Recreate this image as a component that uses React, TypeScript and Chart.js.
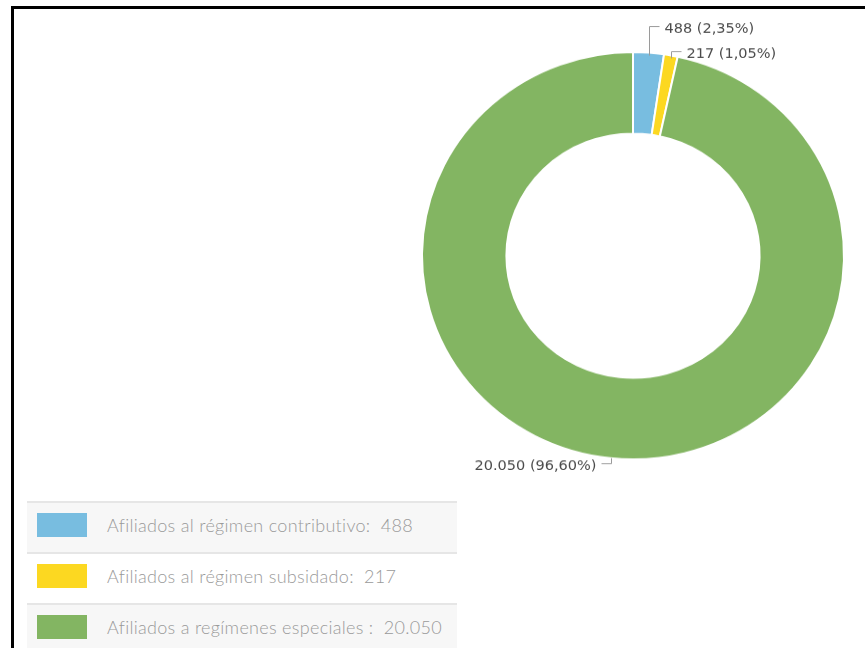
import React, { useEffect, useRef } from "react";
import { Chart, registerables } from "chart.js";

Chart.register(...registerables);

const categories = [
  "Afiliados al régimen contributivo:",
  "Afiliados al régimen subsidado:",
  "Afiliados a regímenes especiales :",
];
const values = [488, 217, 20050];
const valueLabels = ["488", "217", "20.050"];
const percentLabels = ["2,35%", "1,05%", "96,60%"];
const colors = ["#78bde0", "#fcd821", "#83b562"];

const labelPlugin = {
  id: "sliceLabels",
  afterDatasetsDraw(chart: any) {
    const meta = chart.getDatasetMeta(0);
    const ctx = chart.ctx;
    const items: any[] = [];
    meta.data.forEach((arc: any, i: number) => {
      const p = arc.getProps(["x", "y", "startAngle", "endAngle", "outerRadius"], true);
      const mid = (p.startAngle + p.endAngle) / 2;
      const ex = p.x + Math.cos(mid) * p.outerRadius;
      const ey = p.y + Math.sin(mid) * p.outerRadius;
      const right = ex >= p.x;
      const bottom = ey > p.y;
      const ly = ey + (bottom ? 5 : -4);
      items.push({ i, ex, ey, right, ly });
    });
    const rightItems = items.filter((d) => d.right).sort((a, b) => b.ly - a.ly);
    for (let k = 1; k < rightItems.length; k++) {
      if (rightItems[k - 1].ly - rightItems[k].ly < 26) {
        rightItems[k].ly = rightItems[k - 1].ly - 26;
      }
    }
    ctx.save();
    ctx.font = "14.5px 'DejaVu Sans'";
    ctx.textBaseline = "middle";
    items.forEach((d) => {
      const sign = d.right ? 1 : -1;
      const ex = Math.round(d.ex) + 0.5;
      const ly = Math.round(d.ly) + 0.5;
      ctx.strokeStyle = "#9a9a9a";
      ctx.lineWidth = 1;
      ctx.beginPath();
      ctx.moveTo(ex, d.ey + (d.ly < d.ey ? 3 : 0));
      ctx.lineTo(ex, ly);
      ctx.lineTo(ex + sign * 10, ly);
      ctx.stroke();
      ctx.fillStyle = "#4a4a4a";
      ctx.textAlign = d.right ? "left" : "right";
      ctx.fillText(
        `${valueLabels[d.i]} (${percentLabels[d.i]})`,
        ex + sign * 15,
        ly + 3
      );
    });
    ctx.restore();
  },
};

export default function App() {
  const ref = useRef<HTMLCanvasElement | null>(null);
  useEffect(() => {
    if (!ref.current) return;
    const chart = new Chart(ref.current, {
      type: "doughnut",
      data: {
        labels: categories,
        datasets: [
          {
            data: values,
            backgroundColor: colors,
            borderColor: "#ffffff",
            borderWidth: 2,
          },
        ],
      },
      options: {
        animation: false,
        responsive: true,
        maintainAspectRatio: false,
        cutout: "60%",
        layout: { padding: { left: 421, right: 20, top: 53, bottom: 171 } },
        plugins: { legend: { display: false }, tooltip: { enabled: false } },
      },
      plugins: [labelPlugin],
    });
    return () => chart.destroy();
  }, []);

  const rowTops = [501, 552, 603];
  return (
    <div
      style={{
        position: "fixed",
        left: 0,
        top: 0,
        width: 865,
        height: 648,
        background: "#ffffff",
        overflow: "hidden",
      }}
    >
      <div
        style={{
          position: "absolute",
          left: 11,
          top: 6,
          width: 860,
          height: 660,
          borderTop: "3px solid #000",
          borderLeft: "3px solid #000",
        }}
      />
      <div
        style={{
          position: "absolute",
          left: 0,
          top: 0,
          width: 865,
          height: 648,
          transform: "scaleY(0.965)",
          transformOrigin: "0 0",
        }}
      >
        <canvas ref={ref} />
      </div>
      {categories.map((c, i) => (
        <div
          key={c}
          style={{
            position: "absolute",
            left: 27,
            top: rowTops[i],
            width: 430,
            height: i === 2 ? 60 : 51,
            background: i === 1 ? "#ffffff" : "#f7f7f7",
            borderTop: "2px solid #e6e6e6",
            boxSizing: "border-box",
          }}
        >
          <div
            style={{
              position: "absolute",
              left: 10,
              top: 10,
              width: 50,
              height: 24,
              background: colors[i],
            }}
          />
          <div
            style={{
              position: "absolute",
              left: 80,
              top: 11,
              fontFamily: "Lato, sans-serif",
              fontWeight: 300,
              fontSize: 18,
              color: "#9a9a9a",
              whiteSpace: "pre",
              letterSpacing: 0.3,
            }}
          >
            {`${c}  ${valueLabels[i]}`}
          </div>
        </div>
      ))}
    </div>
  );
}
